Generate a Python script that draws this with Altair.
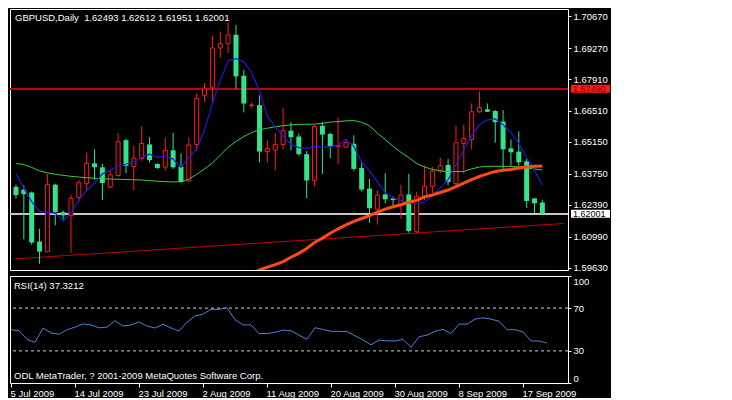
import altair as alt
import pandas as pd

# ---------------- data ----------------
symbol = "GBPUSD,Daily"
opens = [1.63178, 1.63062, 1.62933, 1.60780, 1.60336, 1.63277, 1.62071, 1.61929, 1.62717, 1.63320,
         1.64212, 1.64039, 1.63178, 1.63678, 1.65228, 1.64065, 1.64427, 1.65043, 1.64181, 1.64039,
         1.64784, 1.64065, 1.63436, 1.65043, 1.67196, 1.67553, 1.69275, 1.69465, 1.69852, 1.68057,
         1.66752, 1.66765, 1.64728, 1.64797, 1.65043, 1.65645, 1.65387, 1.64612, 1.63462, 1.65861,
         1.65503, 1.64956, 1.64926, 1.65073, 1.64009, 1.63105, 1.62201, 1.62847, 1.62674, 1.62373,
         1.62847, 1.61210, 1.62748, 1.63204, 1.63893, 1.64138, 1.63320, 1.65086, 1.65258, 1.66476,
         1.66580, 1.66507, 1.66046, 1.64870, 1.64728, 1.64298, 1.62674, 1.62493]
highs = [1.63277, 1.63247, 1.62976, 1.61339, 1.63751, 1.63320, 1.62145, 1.62847, 1.63492, 1.64685,
         1.64827, 1.64181, 1.63923, 1.65546, 1.65301, 1.64999, 1.65831, 1.65357, 1.64224, 1.65331,
         1.65546, 1.64642, 1.65344, 1.67282, 1.67742, 1.69809, 1.69994, 1.70382, 1.70283, 1.68315,
         1.66881, 1.67196, 1.65215, 1.65546, 1.66649, 1.66020, 1.65516, 1.64754, 1.65904, 1.66033,
         1.65546, 1.66218, 1.65258, 1.65443, 1.64311, 1.63535, 1.63032, 1.63781, 1.62760, 1.63277,
         1.63751, 1.62963, 1.64108, 1.64052, 1.64470, 1.64397, 1.65861, 1.65904, 1.66838, 1.67368,
         1.66838, 1.66550, 1.66550, 1.65258, 1.65615, 1.64397, 1.62674, 1.62612]
lows = [1.62674, 1.60879, 1.60638, 1.59802, 1.60306, 1.61499, 1.61740, 1.60276, 1.62502, 1.63032,
        1.63492, 1.62601, 1.63105, 1.63622, 1.63781, 1.63032, 1.64324, 1.64255, 1.63966, 1.63893,
        1.63966, 1.63350, 1.63406, 1.64754, 1.66907, 1.66907, 1.68845, 1.69060, 1.67484, 1.66451,
        1.66623, 1.64255, 1.64255, 1.63893, 1.64827, 1.64784, 1.64539, 1.62674, 1.63204, 1.63751,
        1.64440, 1.64181, 1.64870, 1.63880, 1.62976, 1.61598, 1.61525, 1.62459, 1.62244, 1.61770,
        1.61167, 1.61137, 1.62601, 1.62890, 1.63781, 1.63247, 1.63247, 1.63751, 1.64827, 1.66421,
        1.66464, 1.65116, 1.63966, 1.64108, 1.64108, 1.62244, 1.62028, 1.61951]
closes = [1.62816, 1.62859, 1.60737, 1.60336, 1.63277, 1.62071, 1.61929, 1.62674, 1.63363, 1.64212,
          1.64039, 1.63350, 1.63708, 1.65159, 1.64108, 1.64440, 1.65086, 1.64354, 1.64009, 1.64784,
          1.64039, 1.63393, 1.65012, 1.67054, 1.67510, 1.69275, 1.69465, 1.69852, 1.68027, 1.66838,
          1.66778, 1.64728, 1.64857, 1.65043, 1.65645, 1.65357, 1.64612, 1.63462, 1.65831, 1.65473,
          1.64969, 1.64999, 1.65116, 1.63966, 1.63062, 1.62244, 1.62816, 1.62631, 1.62601, 1.62816,
          1.61240, 1.62748, 1.63204, 1.63867, 1.64108, 1.63393, 1.65116, 1.65301, 1.66476, 1.66666,
          1.66476, 1.66020, 1.64827, 1.64698, 1.64255, 1.62558, 1.62459, 1.62001]
ma_fast = [1.63751, 1.63105, 1.62532, 1.62102, 1.62059, 1.62028, 1.61671, 1.62028, 1.62601, 1.63032,
           1.63350, 1.63751, 1.63893, 1.64108, 1.64181, 1.64280, 1.64470, 1.64612, 1.64470, 1.64539,
           1.64397, 1.64039, 1.64470, 1.64827, 1.65688, 1.66851, 1.67841, 1.68703, 1.68819, 1.68660,
           1.68199, 1.67368, 1.66248, 1.65818, 1.65400, 1.65043, 1.64901, 1.64870, 1.64956, 1.64926,
           1.64926, 1.65021, 1.65258, 1.64956, 1.64268, 1.63880, 1.63406, 1.62933, 1.62696, 1.62588,
           1.62459, 1.62446, 1.62502, 1.62803, 1.63148, 1.63492, 1.64138, 1.64827, 1.65430, 1.65904,
           1.66119, 1.66162, 1.65904, 1.65559, 1.65086, 1.64470, 1.63893, 1.63247]
ma_slow = [1.64203, 1.64160, 1.64031, 1.63880, 1.63794, 1.63729, 1.63686, 1.63643, 1.63609, 1.63579,
           1.63557, 1.63535, 1.63523, 1.63514, 1.63501, 1.63492, 1.63480, 1.63449, 1.63428, 1.63406,
           1.63393, 1.63406, 1.63514, 1.63729, 1.63966, 1.64224, 1.64569, 1.64913, 1.65172, 1.65387,
           1.65559, 1.65688, 1.65753, 1.65818, 1.65861, 1.65904, 1.65925, 1.65925, 1.65934, 1.65968,
           1.66020, 1.66042, 1.66076, 1.66089, 1.66011, 1.65861, 1.65538, 1.65258, 1.64956, 1.64698,
           1.64461, 1.64203, 1.64052, 1.63945, 1.63880, 1.63850, 1.63850, 1.63858, 1.63966, 1.64052,
           1.64082, 1.64082, 1.64082, 1.64074, 1.64052, 1.64009, 1.63966, 1.63923]
ma_long_start = 30
ma_long = [1.59380, 1.59531, 1.59660, 1.59768, 1.59897, 1.60091, 1.60263, 1.60478, 1.60737, 1.60930,
           1.61146, 1.61339, 1.61512, 1.61662, 1.61792, 1.61921, 1.62071, 1.62201, 1.62308, 1.62394,
           1.62502, 1.62588, 1.62739, 1.62825, 1.62933, 1.63040, 1.63191, 1.63342, 1.63492, 1.63643,
           1.63751, 1.63858, 1.63910, 1.63945, 1.64009, 1.64052, 1.64082, 1.64095]
rsi = [49.8, 48.9, 40.8, 38.0, 51.4, 46.8, 45.6, 49.8, 52.2, 55.2,
       54.3, 51.6, 52.2, 58.2, 53.2, 54.3, 57.0, 53.2, 51.4, 55.0,
       51.4, 48.6, 56.8, 62.7, 64.3, 68.8, 68.8, 70.3, 59.1, 54.3,
       54.3, 46.2, 46.2, 47.4, 49.5, 48.9, 44.7, 40.8, 51.6, 50.1,
       48.3, 48.3, 48.0, 44.1, 40.2, 35.7, 40.2, 39.3, 39.3, 40.8,
       33.3, 43.2, 44.7, 48.3, 50.1, 46.2, 55.0, 55.0, 59.7, 60.9,
       59.7, 57.7, 49.8, 49.8, 47.7, 39.3, 39.3, 37.3212]
rsi_levels = [30, 70]
rsi_ticks = [0, 30, 70, 100]
price_ticks = [1.59630, 1.60990, 1.62390, 1.63750, 1.65150, 1.66510, 1.67910, 1.69270, 1.70670]
date_labels = ["5 Jul 2009", "14 Jul 2009", "23 Jul 2009", "2 Aug 2009", "11 Aug 2009",
               "20 Aug 2009", "30 Aug 2009", "8 Sep 2009", "17 Sep 2009"]
bars_per_label = 8
hline_price = 1.67490
bid_price = 1.62001
trend_x = [-0.125, 69.625]
trend_y = [1.6002, 1.6157]
price_domain = [1.59531, 1.70985]
x_domain = [-0.125, 69.625]
footer = "ODL MetaTrader, ? 2001-2009 MetaQuotes Software Corp."

# ---------------- styling ----------------
W, H1, H2 = 558, 261, 107
FONT = "Liberation Sans"
FS = 9.5
RED = "#ff1a1a"
GREEN = "#33e38a"
BLUE = "#1c1cd8"
LIME = "#3ccf3c"
ORANGE = "#ff4a14"
HRED = "#c80000"
RSI_BLUE = "#4f7fd6"

n = len(opens)
df = pd.DataFrame({"i": range(n), "open": opens, "high": highs, "low": lows,
                   "close": closes, "fast": ma_fast, "slow": ma_slow})
df["dir"] = ["up" if c >= o else "down" for o, c in zip(opens, closes)]
df_long = pd.DataFrame({"i": range(ma_long_start, ma_long_start + len(ma_long)), "v": ma_long})
df_trend = pd.DataFrame({"i": trend_x, "v": trend_y})
df_rsi = pd.DataFrame({"i": range(n), "rsi": rsi})

xs = alt.Scale(domain=x_domain, nice=False, zero=False)
ys = alt.Scale(domain=price_domain, nice=False, zero=False)
X = alt.X("i:Q", scale=xs, axis=None)

price_axis = alt.Axis(orient="right", values=price_ticks, format=".5f", title=None,
                      grid=False, domain=False, ticks=True, tickSize=3, tickColor="white",
                      labelColor="white", labelFont=FONT, labelFontSize=FS, labelPadding=2,
                      labelOverlap=False, labelFlush=False, labelBound=False, labelSeparation=0)


def Yp(field):
    return alt.Y(field, scale=ys, axis=price_axis)


hl = alt.Chart(df).mark_rule(color=HRED, strokeWidth=1.5).encode(
    y=alt.Y(datum=hline_price, scale=ys, axis=price_axis))
bidl = alt.Chart(df).mark_rule(color="#c8c8c8", strokeWidth=1).encode(
    y=alt.Y(datum=bid_price, scale=ys, axis=price_axis))
trend = alt.Chart(df_trend).mark_line(color=HRED, strokeWidth=1, clip=True).encode(
    x=X, y=Yp("v:Q"))

wicks = alt.Chart(df).mark_rule(strokeWidth=1, clip=True).encode(
    x=X, y=Yp("low:Q"), y2="high:Q",
    color=alt.Color("dir:N", scale=alt.Scale(domain=["up", "down"], range=[RED, GREEN]), legend=None))
down_bodies = alt.Chart(df).transform_filter("datum.dir == 'down'").mark_bar(
    size=5, color=GREEN, clip=True).encode(x=X, y=Yp("open:Q"), y2="close:Q")
up_bodies = alt.Chart(df).transform_filter("datum.dir == 'up'").mark_bar(
    size=4, fill="black", stroke=RED, strokeWidth=1, clip=True).encode(
    x=X, y=Yp("open:Q"), y2="close:Q")

slow_line = alt.Chart(df).mark_line(color=LIME, strokeWidth=1, clip=True).encode(x=X, y=Yp("slow:Q"))
fast_line = alt.Chart(df).mark_line(color=BLUE, strokeWidth=1.2, clip=True).encode(x=X, y=Yp("fast:Q"))
long_line = alt.Chart(df_long).mark_line(color=ORANGE, strokeWidth=3, clip=True).encode(x=X, y=Yp("v:Q"))

title_text = f"{symbol}\u00a0\u00a0{opens[-1]:.5f} {highs[-1]:.5f} {lows[-1]:.5f} {closes[-1]:.5f}"
title = alt.Chart(pd.DataFrame({"t": [title_text]})).mark_text(
    align="left", baseline="middle", color="white", font=FONT, fontSize=FS).encode(
    text="t:N", x=alt.value(5), y=alt.value(9))

lab_df = pd.DataFrame({"p": [hline_price, bid_price],
                       "t": [f"{hline_price:.5f}", f"{bid_price:.5f}"],
                       "bg": [RED, "white"], "fg": ["#8a0000", "black"]})
lab_box = alt.Chart(lab_df).mark_rect(yOffset=-4, y2Offset=4).encode(
    x=alt.value(W + 3), x2=alt.value(W + 42),
    y=Yp("p:Q"), y2="p:Q",
    fill=alt.Fill("bg:N", scale=None))
lab_txt = alt.Chart(lab_df).mark_text(align="left", baseline="middle", font=FONT, fontSize=9).encode(
    x=alt.value(W + 5), y=Yp("p:Q"), text="t:N",
    color=alt.Color("fg:N", scale=None))

main = alt.layer(hl, bidl, trend, wicks, down_bodies, up_bodies, slow_line, fast_line,
                 long_line, title, lab_box, lab_txt).properties(width=W, height=H1)

# ---------------- RSI panel ----------------
rs = alt.Scale(domain=[0, 100], nice=False)
label_js = "[" + ",".join(f"'{s}'" for s in date_labels) + "]"
x_axis = alt.Axis(orient="bottom", values=[k * bars_per_label for k in range(len(date_labels))],
                  labelExpr=f"{label_js}[round(datum.value / {bars_per_label})]",
                  labelAlign="left", labelFlush=False, labelPadding=1, labelOverlap=False,
                  tickSize=4, tickColor="white", domain=False, grid=False, title=None,
                  labelColor="white", labelFont=FONT, labelFontSize=FS, labelOffset=-1)
rsi_axis = alt.Axis(orient="right", values=rsi_ticks, title=None, grid=False, domain=False,
                    tickSize=3, tickColor="white", labelColor="white", labelFont=FONT,
                    labelFontSize=FS, labelPadding=2, labelFlush=True, labelOverlap=False,
                    labelSeparation=0)

lev = alt.Chart(pd.DataFrame({"lv": rsi_levels})).mark_rule(
    color="#d0d0d0", strokeWidth=1, strokeDash=[3, 3]).encode(
    y=alt.Y("lv:Q", scale=rs, axis=rsi_axis))
rsi_line = alt.Chart(df_rsi).mark_line(color=RSI_BLUE, strokeWidth=1, clip=True).encode(
    x=alt.X("i:Q", scale=xs, axis=x_axis), y=alt.Y("rsi:Q", scale=rs, axis=rsi_axis))
rsi_title = alt.Chart(pd.DataFrame({"t": [f"RSI(14) {rsi[-1]:.4f}"]})).mark_text(
    align="left", baseline="middle", color="white", font=FONT, fontSize=FS).encode(
    text="t:N", x=alt.value(4), y=alt.value(10))
foot = alt.Chart(pd.DataFrame({"t": [footer]})).mark_text(
    align="left", baseline="middle", color="white", font=FONT, fontSize=FS).encode(
    text="t:N", x=alt.value(4), y=alt.value(H2 - 7))

rsi_panel = alt.layer(lev, rsi_line, rsi_title, foot).properties(width=W, height=H2)

chart = alt.vconcat(main, rsi_panel, spacing=2).properties(
    background="black", padding={"left": 0, "top": 0, "right": 0, "bottom": 0}
).configure_view(stroke="white", strokeWidth=1, fill="black"
).configure_axis(labelOverlap=False)

chart.save("out.html", embed_options={"renderer": "svg", "actions": False})
